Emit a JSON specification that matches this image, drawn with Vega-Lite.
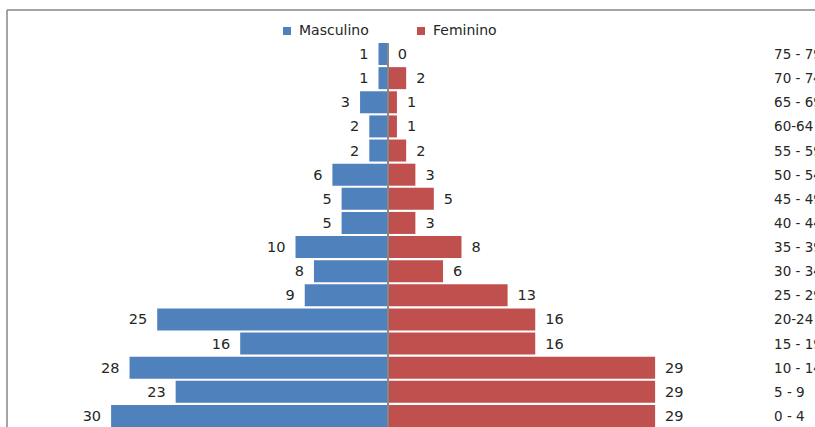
{
  "$schema": "https://vega.github.io/schema/vega-lite/v6.json",
  "width": 808,
  "height": 417,
  "autosize": {"type": "none"},
  "padding": {"left": 7, "top": 10, "right": 0, "bottom": 0},
  "config": {
    "font": "DejaVu Sans",
    "view": {"stroke": "#878787", "strokeWidth": 1.5, "strokeDash": [808, 1225, 417, 0]},
    "legend": {
      "orient": "none",
      "legendX": 273,
      "legendY": 14,
      "direction": "horizontal",
      "symbolType": "square",
      "symbolSize": 64,
      "symbolStrokeWidth": 0,
      "labelFont": "DejaVu Sans",
      "labelFontSize": 14,
      "labelColor": "#262626",
      "labelOffset": 5,
      "columnPadding": 45,
      "padding": 0
    }
  },
  "data": {
    "values": [
      {"faixa": "75 - 79", "sexo": "Masculino", "valor": 1},
      {"faixa": "70 - 74", "sexo": "Masculino", "valor": 1},
      {"faixa": "65 - 69", "sexo": "Masculino", "valor": 3},
      {"faixa": "60-64", "sexo": "Masculino", "valor": 2},
      {"faixa": "55 - 59", "sexo": "Masculino", "valor": 2},
      {"faixa": "50 - 54", "sexo": "Masculino", "valor": 6},
      {"faixa": "45 - 49", "sexo": "Masculino", "valor": 5},
      {"faixa": "40 - 44", "sexo": "Masculino", "valor": 5},
      {"faixa": "35 - 39", "sexo": "Masculino", "valor": 10},
      {"faixa": "30 - 34", "sexo": "Masculino", "valor": 8},
      {"faixa": "25 - 29", "sexo": "Masculino", "valor": 9},
      {"faixa": "20-24", "sexo": "Masculino", "valor": 25},
      {"faixa": "15 - 19", "sexo": "Masculino", "valor": 16},
      {"faixa": "10 - 14", "sexo": "Masculino", "valor": 28},
      {"faixa": "5 - 9", "sexo": "Masculino", "valor": 23},
      {"faixa": "0 - 4", "sexo": "Masculino", "valor": 30},
      {"faixa": "75 - 79", "sexo": "Feminino", "valor": 0},
      {"faixa": "70 - 74", "sexo": "Feminino", "valor": 2},
      {"faixa": "65 - 69", "sexo": "Feminino", "valor": 1},
      {"faixa": "60-64", "sexo": "Feminino", "valor": 1},
      {"faixa": "55 - 59", "sexo": "Feminino", "valor": 2},
      {"faixa": "50 - 54", "sexo": "Feminino", "valor": 3},
      {"faixa": "45 - 49", "sexo": "Feminino", "valor": 5},
      {"faixa": "40 - 44", "sexo": "Feminino", "valor": 3},
      {"faixa": "35 - 39", "sexo": "Feminino", "valor": 8},
      {"faixa": "30 - 34", "sexo": "Feminino", "valor": 6},
      {"faixa": "25 - 29", "sexo": "Feminino", "valor": 13},
      {"faixa": "20-24", "sexo": "Feminino", "valor": 16},
      {"faixa": "15 - 19", "sexo": "Feminino", "valor": 16},
      {"faixa": "10 - 14", "sexo": "Feminino", "valor": 29},
      {"faixa": "5 - 9", "sexo": "Feminino", "valor": 29},
      {"faixa": "0 - 4", "sexo": "Feminino", "valor": 29}
    ]
  },
  "layer": [
    {
      "transform": [{"filter": "datum.sexo === 'Masculino'"}],
      "encoding": {
        "y": {
          "field": "faixa", "type": "nominal", "axis": null,
          "scale": {
            "domain": ["75 - 79", "70 - 74", "65 - 69", "60-64", "55 - 59", "50 - 54", "45 - 49", "40 - 44", "35 - 39", "30 - 34", "25 - 29", "20-24", "15 - 19", "10 - 14", "5 - 9", "0 - 4"],
            "paddingInner": 0.088, "paddingOuter": 0.684, "align": 1
          }
        },
        "x": {
          "field": "valor", "type": "quantitative", "axis": null,
          "scale": {"domain": [-46.34, 41.29], "reverse": true, "nice": false, "zero": false}
        }
      },
      "layer": [
        {
          "mark": {"type": "bar"},
          "encoding": {
            "x2": {"datum": 0},
            "color": {
              "field": "sexo", "type": "nominal",
              "scale": {"domain": ["Masculino", "Feminino"], "range": ["#4F81BD", "#C0504D"]},
              "legend": {"title": null}
            }
          }
        },
        {
          "mark": {"type": "text", "align": "right", "baseline": "middle", "dx": -10, "dy": 1, "fontSize": 14.5, "color": "#262626"},
          "encoding": {"text": {"field": "valor", "type": "quantitative"}}
        }
      ]
    },
    {
      "transform": [{"filter": "datum.sexo === 'Feminino'"}],
      "encoding": {
        "y": {
          "field": "faixa", "type": "nominal", "axis": null,
          "scale": {
            "domain": ["75 - 79", "70 - 74", "65 - 69", "60-64", "55 - 59", "50 - 54", "45 - 49", "40 - 44", "35 - 39", "30 - 34", "25 - 29", "20-24", "15 - 19", "10 - 14", "5 - 9", "0 - 4"],
            "paddingInner": 0.088, "paddingOuter": 0.684, "align": 1
          }
        },
        "x": {
          "field": "valor", "type": "quantitative", "axis": null,
          "scale": {"domain": [-41.29, 46.34], "nice": false, "zero": false}
        }
      },
      "layer": [
        {
          "mark": {"type": "bar"},
          "encoding": {
            "x2": {"datum": 0},
            "color": {
              "field": "sexo", "type": "nominal",
              "scale": {"domain": ["Masculino", "Feminino"], "range": ["#4F81BD", "#C0504D"]},
              "legend": {"title": null}
            }
          }
        },
        {
          "mark": {"type": "text", "align": "left", "baseline": "middle", "dx": 10, "dy": 1, "fontSize": 14.5, "color": "#262626"},
          "encoding": {"text": {"field": "valor", "type": "quantitative"}}
        },
        {
          "mark": {"type": "text", "align": "left", "baseline": "middle", "dy": 1, "fontSize": 13.5, "color": "#262626"},
          "encoding": {
            "x": {"datum": 41.9},
            "text": {"field": "faixa", "type": "nominal"}
          }
        },
        {
          "mark": {"type": "rule", "color": "#888888", "strokeWidth": 1},
          "encoding": {
            "x": {"datum": 0},
            "y": {"datum": "75 - 79", "bandPosition": 0},
            "y2": {"datum": "0 - 4", "bandPosition": 1}
          }
        }
      ]
    }
  ],
  "resolve": {"scale": {"x": "independent"}}
}
